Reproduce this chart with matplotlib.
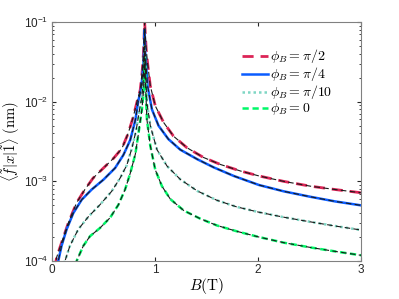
import numpy as np
import matplotlib
matplotlib.use('Agg')
import matplotlib.pyplot as plt

plt.rcParams['mathtext.fontset'] = 'cm'
plt.rcParams['font.family'] = ['Liberation Sans', 'DejaVu Sans']

# B in tesla, matrix element in nm
b_pi2 = [0.03, 0.045, 0.094, 0.159, 0.24, 0.32, 0.40, 0.50, 0.60, 0.68, 0.74, 0.79, 0.83, 0.857, 0.875, 0.888, 0.9,
         0.915, 0.928, 0.955, 1.003, 1.084, 1.18, 1.31, 1.47, 1.636, 1.83, 2.01, 2.25, 2.51, 2.75, 3.0]
v_pi2 = [8e-5, 1.1e-4, 1.7e-4, 3.0e-4, 5.4e-4, 7.9e-4, 1.1e-3, 1.47e-3, 1.96e-3, 2.6e-3, 4.0e-3, 6.5e-3, 1.05e-2, 1.4e-2, 2.3e-2, 4e-2, 1.0e-1,
         4.6e-2, 3.1e-2, 1.58e-2, 8.9e-3, 5.5e-3, 3.7e-3, 2.65e-3, 2.0e-3, 1.63e-3, 1.35e-3, 1.17e-3, 1.0e-3, 8.7e-4, 7.9e-4, 7.2e-4]

b_pi4 = [0.05, 0.062, 0.094, 0.143, 0.208, 0.29, 0.386, 0.50, 0.613, 0.694, 0.76, 0.81, 0.84, 0.864, 0.88, 0.892, 0.9,
         0.906, 0.928, 0.971, 1.035, 1.13, 1.246, 1.41, 1.57, 1.765, 2.01, 2.25, 2.51, 2.75, 3.0]
v_pi4 = [8e-5, 1.0e-4, 1.55e-4, 2.5e-4, 4.0e-4, 5.9e-4, 7.9e-4, 1.05e-3, 1.47e-3, 2.15e-3, 3.3e-3, 5.9e-3, 1.05e-2, 1.4e-2, 2.2e-2, 3.6e-2, 8e-2,
         4.1e-2, 1.58e-2, 8e-3, 5e-3, 3.4e-3, 2.5e-3, 1.9e-3, 1.5e-3, 1.17e-3, 9.0e-4, 7.5e-4, 6.4e-4, 5.6e-4, 5.0e-4]

b_pi10 = [0.115, 0.127, 0.175, 0.256, 0.354, 0.467, 0.58, 0.662, 0.727, 0.776, 0.818, 0.85, 0.873, 0.888, 0.9,
          0.91, 0.922, 0.955, 1.02, 1.117, 1.246, 1.41, 1.60, 1.79, 2.01, 2.25, 2.51, 2.75, 3.0]
v_pi10 = [8e-5, 1.0e-4, 1.55e-4, 2.5e-4, 3.6e-4, 5.1e-4, 7.5e-4, 1.1e-3, 1.6e-3, 2.6e-3, 4.4e-3, 7.9e-3, 1.15e-2, 2e-2, 5e-2,
          2.2e-2, 9.7e-3, 5e-3, 2.5e-3, 1.56e-3, 1.06e-3, 7.6e-4, 5.8e-4, 4.8e-4, 4.1e-4, 3.55e-4, 3.1e-4, 2.75e-4, 2.45e-4]

b_0 = [0.23, 0.24, 0.305, 0.37, 0.467, 0.565, 0.646, 0.71, 0.76, 0.81, 0.84, 0.873, 0.89, 0.902,
       0.909, 0.922, 0.955, 1.003, 1.068, 1.149, 1.28, 1.44, 1.6, 1.8, 2.01, 2.25, 2.51, 2.75, 3.0]
v_0 = [9e-5, 1.0e-4, 1.55e-4, 2.05e-4, 2.6e-4, 3.5e-4, 5.1e-4, 7.9e-4, 1.26e-3, 2.2e-3, 4e-3, 7.9e-3, 1.4e-2, 3.5e-2,
       1.6e-2, 6e-3, 2.8e-3, 1.4e-3, 8.7e-4, 6e-4, 4.3e-4, 3.4e-4, 2.8e-4, 2.35e-4, 2.0e-4, 1.7e-4, 1.48e-4, 1.32e-4, 1.18e-4]

fig = plt.figure(figsize=(3.99, 2.99), dpi=100)
ax = fig.add_axes([0.130, 0.127, 0.775, 0.799])

ax.plot(b_pi2, v_pi2, color='#dc2456', lw=2.0, dashes=(4, 2.5), label=r'$\phi_B=\pi/2$')
ax.plot(b_pi4, v_pi4, color='#0a5cff', lw=1.8, label=r'$\phi_B=\pi/4$')
ax.plot(b_pi10, v_pi10, color='#7fd6c4', lw=1.8, dashes=(1, 1.2), label=r'$\phi_B=\pi/10$')
ax.plot(b_0, v_0, color='#00f868', lw=1.8, dashes=(2.5, 1.5), label=r'$\phi_B=0$')

# thin black overlays
for b, v in [(b_pi2, v_pi2), (b_pi4, v_pi4), (b_pi10, v_pi10), (b_0, v_0)]:
    ax.plot(b, v, color='#1a1a1a', lw=0.8, dashes=(5, 3))

ax.set_yscale('log')
ax.set_xlim(0, 3)
ax.set_ylim(1e-4, 1e-1)
ax.set_xticks([0, 1, 2, 3])
ax.tick_params(which='both', direction='in', top=True, right=True, labelsize=8.5, colors='#262626')
ax.tick_params(which='major', length=3, pad=2.5)
ax.tick_params(which='minor', length=1.5)
for s in ax.spines.values():
    s.set_color('#808080')
    s.set_linewidth(0.8)

ax.set_xlabel(r'$B(\mathrm{T})$', fontsize=11, labelpad=0)
ax.set_ylabel(r'$\langle\tilde{f}|x|\tilde{1}\rangle\ (\mathrm{nm})$', fontsize=10.5)
ax.yaxis.set_label_coords(-0.098, 0.5)

ax.legend(loc='upper right', bbox_to_anchor=(0.94, 0.935), frameon=False, fontsize=10,
          handlelength=1.9, handletextpad=0.15, labelspacing=0.0, borderpad=0.2)

fig.savefig('out.png', dpi=100)
